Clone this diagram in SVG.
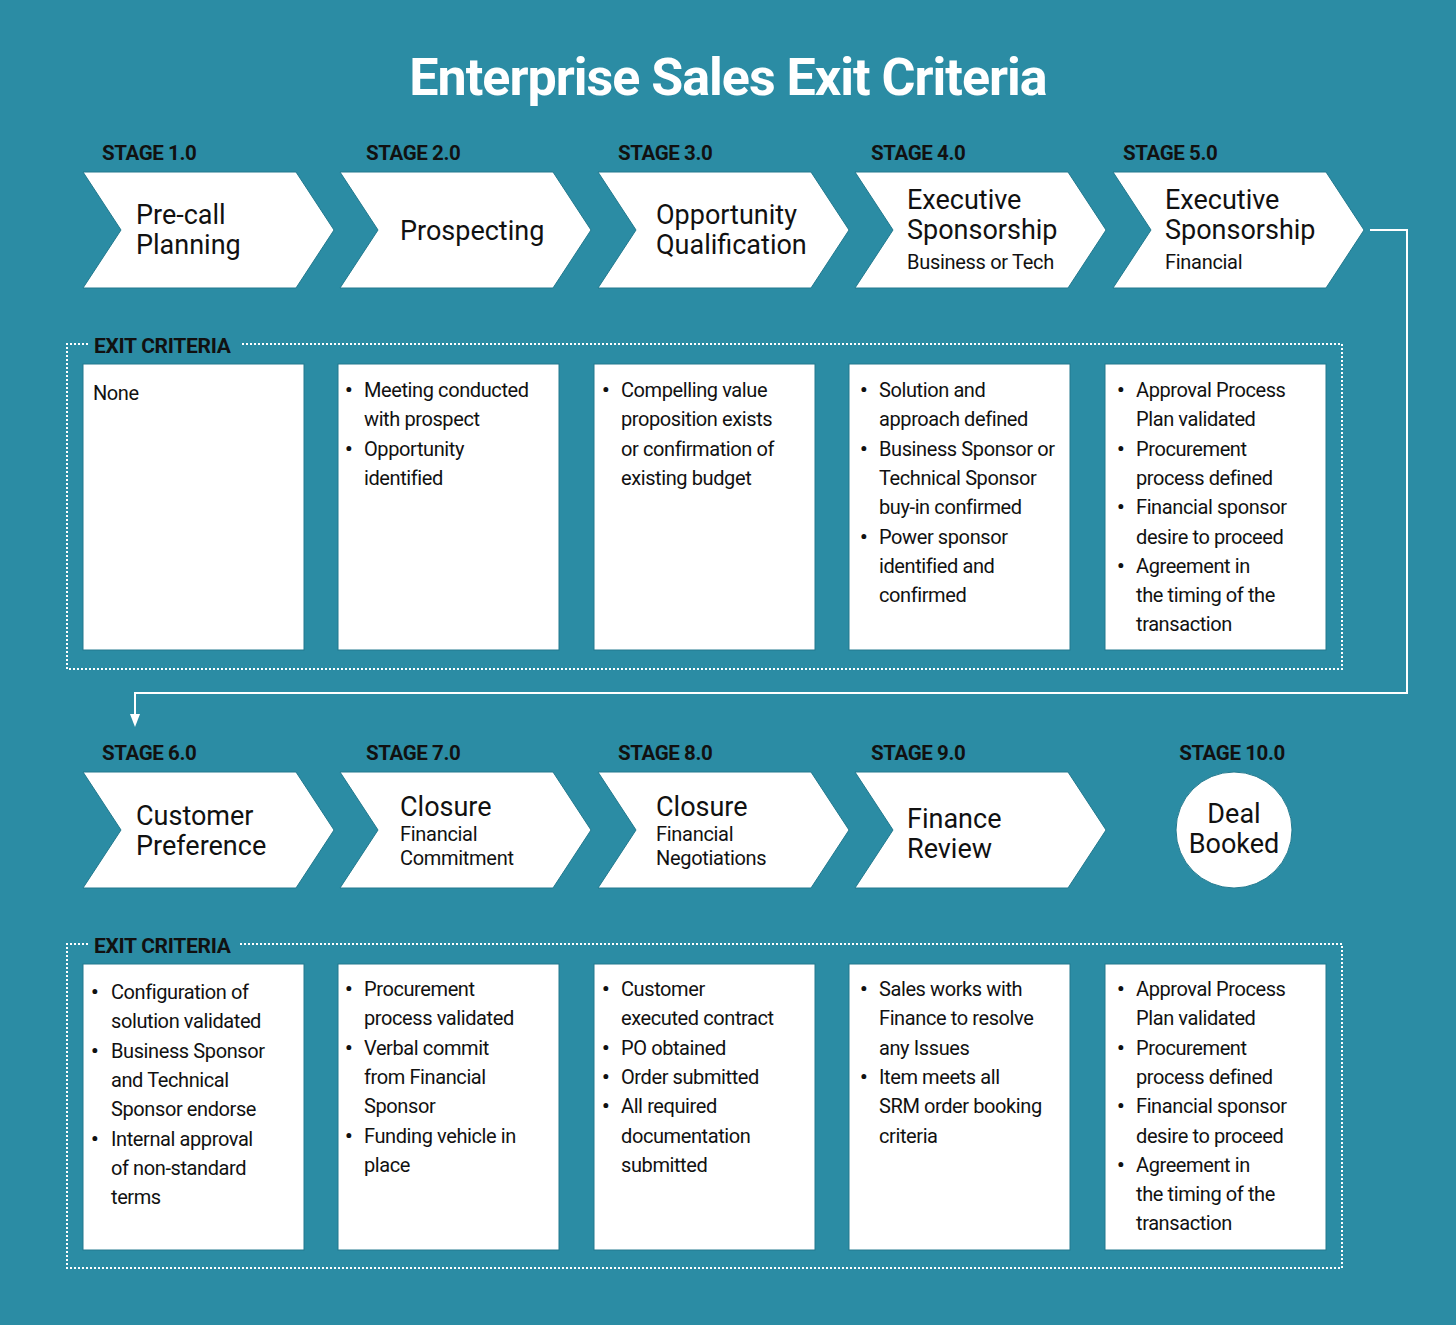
<svg xmlns="http://www.w3.org/2000/svg" width="1456" height="1325" viewBox="0 0 1456 1325">
<style>
text{font-family:Roboto,"Liberation Sans",sans-serif;fill:#111}
.title{font-size:52px;font-weight:bold;fill:#fff;letter-spacing:-1px}
.stage{font-size:20.5px;font-weight:bold;letter-spacing:-0.4px}
.exit{font-size:21px;font-weight:bold;letter-spacing:-0.3px}
.head{font-size:27px}
.sub{font-size:20px;letter-spacing:-0.3px}
.body{font-size:20px;letter-spacing:-0.4px}
.bul{font-size:21px;font-weight:bold}
.chev{fill:#fff;stroke:#22798e;stroke-width:1}
.box{fill:#fff;stroke:#22798e;stroke-width:1}
.dots{fill:none;stroke:#fff;stroke-width:2;stroke-dasharray:2 2}
.conn{fill:none;stroke:#fff;stroke-width:2}
</style>
<rect width="1456" height="1325" fill="#2b8ca4"/>
<text class="title" x="728" y="95" text-anchor="middle">Enterprise Sales Exit Criteria</text>

<g id="connectors">
<path class="conn" d="M1370,230 H1407 V693 H135 V716"/>
<path d="M130,714 L140,714 L135,727 Z" fill="#fff"/>
</g>

<g id="frame1">
<path class="dots" d="M88,344 H67 V669 H1342 V344 H240"/>
<text class="exit" x="94" y="353">EXIT CRITERIA</text>
</g>
<g id="frame2">
<path class="dots" d="M88,944 H67 V1268 H1342 V944 H240"/>
<text class="exit" x="94" y="953">EXIT CRITERIA</text>
</g>

<g id="stage1">
<text class="stage" x="102" y="160">STAGE 1.0</text>
<path class="chev" d="M83,172 H296 L334,230 L296,288 H83 L121,230 Z"/>
<text class="head" x="136" y="224">Pre-call</text>
<text class="head" x="136" y="254">Planning</text>
</g>
<g id="stage2">
<text class="stage" x="366" y="160">STAGE 2.0</text>
<path class="chev" d="M340,172 H553 L591,230 L553,288 H340 L378,230 Z"/>
<text class="head" x="400" y="240">Prospecting</text>
</g>
<g id="stage3">
<text class="stage" x="618" y="160">STAGE 3.0</text>
<path class="chev" d="M598,172 H811 L849,230 L811,288 H598 L636,230 Z"/>
<text class="head" x="656" y="224">Opportunity</text>
<text class="head" x="656" y="254">Qualification</text>
</g>
<g id="stage4">
<text class="stage" x="871" y="160">STAGE 4.0</text>
<path class="chev" d="M855,172 H1068 L1106,230 L1068,288 H855 L893,230 Z"/>
<text class="head" x="907" y="209">Executive</text>
<text class="head" x="907" y="239">Sponsorship</text>
<text class="sub" x="907" y="269">Business or Tech</text>
</g>
<g id="stage5">
<text class="stage" x="1123" y="160">STAGE 5.0</text>
<path class="chev" d="M1113,172 H1326 L1364,230 L1326,288 H1113 L1151,230 Z"/>
<text class="head" x="1165" y="209">Executive</text>
<text class="head" x="1165" y="239">Sponsorship</text>
<text class="sub" x="1165" y="269">Financial</text>
</g>

<g id="stage6">
<text class="stage" x="102" y="760">STAGE 6.0</text>
<path class="chev" d="M83,772 H296 L334,830 L296,888 H83 L121,830 Z"/>
<text class="head" x="136" y="825">Customer</text>
<text class="head" x="136" y="855">Preference</text>
</g>
<g id="stage7">
<text class="stage" x="366" y="760">STAGE 7.0</text>
<path class="chev" d="M340,772 H553 L591,830 L553,888 H340 L378,830 Z"/>
<text class="head" x="400" y="816">Closure</text>
<text class="sub" x="400" y="841">Financial</text>
<text class="sub" x="400" y="865">Commitment</text>
</g>
<g id="stage8">
<text class="stage" x="618" y="760">STAGE 8.0</text>
<path class="chev" d="M598,772 H811 L849,830 L811,888 H598 L636,830 Z"/>
<text class="head" x="656" y="816">Closure</text>
<text class="sub" x="656" y="841">Financial</text>
<text class="sub" x="656" y="865">Negotiations</text>
</g>
<g id="stage9">
<text class="stage" x="871" y="760">STAGE 9.0</text>
<path class="chev" d="M855,772 H1068 L1106,830 L1068,888 H855 L893,830 Z"/>
<text class="head" x="907" y="828">Finance</text>
<text class="head" x="907" y="858">Review</text>
</g>
<g id="stage10">
<text class="stage" x="1232" y="760" text-anchor="middle">STAGE 10.0</text>
<circle cx="1234" cy="830" r="58" fill="#fff" stroke="#22798e" stroke-width="1"/>
<text class="head" x="1234" y="823" text-anchor="middle">Deal</text>
<text class="head" x="1234" y="853" text-anchor="middle">Booked</text>
</g>

<g id="criteria1">
<rect class="box" x="83" y="364" width="221" height="286"/>
<text class="body" x="93" y="400">None</text>
</g>
<g id="criteria2">
<rect class="box" x="338" y="364" width="221" height="286"/>
<text class="bul" x="345" y="397">•</text>
<text class="bul" x="345" y="455.6">•</text>
<text class="body"><tspan x="364" y="397">Meeting conducted</tspan><tspan x="364" y="426.3">with prospect</tspan><tspan x="364" y="455.6">Opportunity</tspan><tspan x="364" y="484.9">identified</tspan></text>
</g>
<g id="criteria3">
<rect class="box" x="594" y="364" width="221" height="286"/>
<text class="bul" x="602" y="397">•</text>
<text class="body"><tspan x="621" y="397">Compelling value</tspan><tspan x="621" y="426.3">proposition exists</tspan><tspan x="621" y="455.6">or confirmation of</tspan><tspan x="621" y="484.9">existing budget</tspan></text>
</g>
<g id="criteria4">
<rect class="box" x="849" y="364" width="221" height="286"/>
<text class="bul" x="860" y="397">•</text>
<text class="bul" x="860" y="455.6">•</text>
<text class="bul" x="860" y="543.5">•</text>
<text class="body"><tspan x="879" y="397">Solution and</tspan><tspan x="879" y="426.3">approach defined</tspan><tspan x="879" y="455.6">Business Sponsor or</tspan><tspan x="879" y="484.9">Technical Sponsor</tspan><tspan x="879" y="514.2">buy-in confirmed</tspan><tspan x="879" y="543.5">Power sponsor</tspan><tspan x="879" y="572.8">identified and</tspan><tspan x="879" y="602.1">confirmed</tspan></text>
</g>
<g id="criteria5">
<rect class="box" x="1105" y="364" width="221" height="286"/>
<text class="bul" x="1117" y="397">•</text>
<text class="bul" x="1117" y="455.6">•</text>
<text class="bul" x="1117" y="514.2">•</text>
<text class="bul" x="1117" y="572.8">•</text>
<text class="body"><tspan x="1136" y="397">Approval Process</tspan><tspan x="1136" y="426.3">Plan validated</tspan><tspan x="1136" y="455.6">Procurement</tspan><tspan x="1136" y="484.9">process defined</tspan><tspan x="1136" y="514.2">Financial sponsor</tspan><tspan x="1136" y="543.5">desire to proceed</tspan><tspan x="1136" y="572.8">Agreement in</tspan><tspan x="1136" y="602.1">the timing of the</tspan><tspan x="1136" y="631.4">transaction</tspan></text>
</g>

<g id="criteria6">
<rect class="box" x="83" y="964" width="221" height="286"/>
<text class="bul" x="91" y="999">•</text>
<text class="bul" x="91" y="1057.6">•</text>
<text class="bul" x="91" y="1145.5">•</text>
<text class="body"><tspan x="111" y="999">Configuration of</tspan><tspan x="111" y="1028.3">solution validated</tspan><tspan x="111" y="1057.6">Business Sponsor</tspan><tspan x="111" y="1086.9">and Technical</tspan><tspan x="111" y="1116.2">Sponsor endorse</tspan><tspan x="111" y="1145.5">Internal approval</tspan><tspan x="111" y="1174.8">of non-standard</tspan><tspan x="111" y="1204.1">terms</tspan></text>
</g>
<g id="criteria7">
<rect class="box" x="338" y="964" width="221" height="286"/>
<text class="bul" x="345" y="996">•</text>
<text class="bul" x="345" y="1054.6">•</text>
<text class="bul" x="345" y="1142.5">•</text>
<text class="body"><tspan x="364" y="996">Procurement</tspan><tspan x="364" y="1025.3">process validated</tspan><tspan x="364" y="1054.6">Verbal commit</tspan><tspan x="364" y="1083.9">from Financial</tspan><tspan x="364" y="1113.2">Sponsor</tspan><tspan x="364" y="1142.5">Funding vehicle in</tspan><tspan x="364" y="1171.8">place</tspan></text>
</g>
<g id="criteria8">
<rect class="box" x="594" y="964" width="221" height="286"/>
<text class="bul" x="602" y="996">•</text>
<text class="bul" x="602" y="1054.6">•</text>
<text class="bul" x="602" y="1083.9">•</text>
<text class="bul" x="602" y="1113.2">•</text>
<text class="body"><tspan x="621" y="996">Customer</tspan><tspan x="621" y="1025.3">executed contract</tspan><tspan x="621" y="1054.6">PO obtained</tspan><tspan x="621" y="1083.9">Order submitted</tspan><tspan x="621" y="1113.2">All required</tspan><tspan x="621" y="1142.5">documentation</tspan><tspan x="621" y="1171.8">submitted</tspan></text>
</g>
<g id="criteria9">
<rect class="box" x="849" y="964" width="221" height="286"/>
<text class="bul" x="860" y="996">•</text>
<text class="bul" x="860" y="1083.9">•</text>
<text class="body"><tspan x="879" y="996">Sales works with</tspan><tspan x="879" y="1025.3">Finance to resolve</tspan><tspan x="879" y="1054.6">any Issues</tspan><tspan x="879" y="1083.9">Item meets all</tspan><tspan x="879" y="1113.2">SRM order booking</tspan><tspan x="879" y="1142.5">criteria</tspan></text>
</g>
<g id="criteria10">
<rect class="box" x="1105" y="964" width="221" height="286"/>
<text class="bul" x="1117" y="996">•</text>
<text class="bul" x="1117" y="1054.6">•</text>
<text class="bul" x="1117" y="1113.2">•</text>
<text class="bul" x="1117" y="1171.8">•</text>
<text class="body"><tspan x="1136" y="996">Approval Process</tspan><tspan x="1136" y="1025.3">Plan validated</tspan><tspan x="1136" y="1054.6">Procurement</tspan><tspan x="1136" y="1083.9">process defined</tspan><tspan x="1136" y="1113.2">Financial sponsor</tspan><tspan x="1136" y="1142.5">desire to proceed</tspan><tspan x="1136" y="1171.8">Agreement in</tspan><tspan x="1136" y="1201.1">the timing of the</tspan><tspan x="1136" y="1230.4">transaction</tspan></text>
</g>
</svg>
